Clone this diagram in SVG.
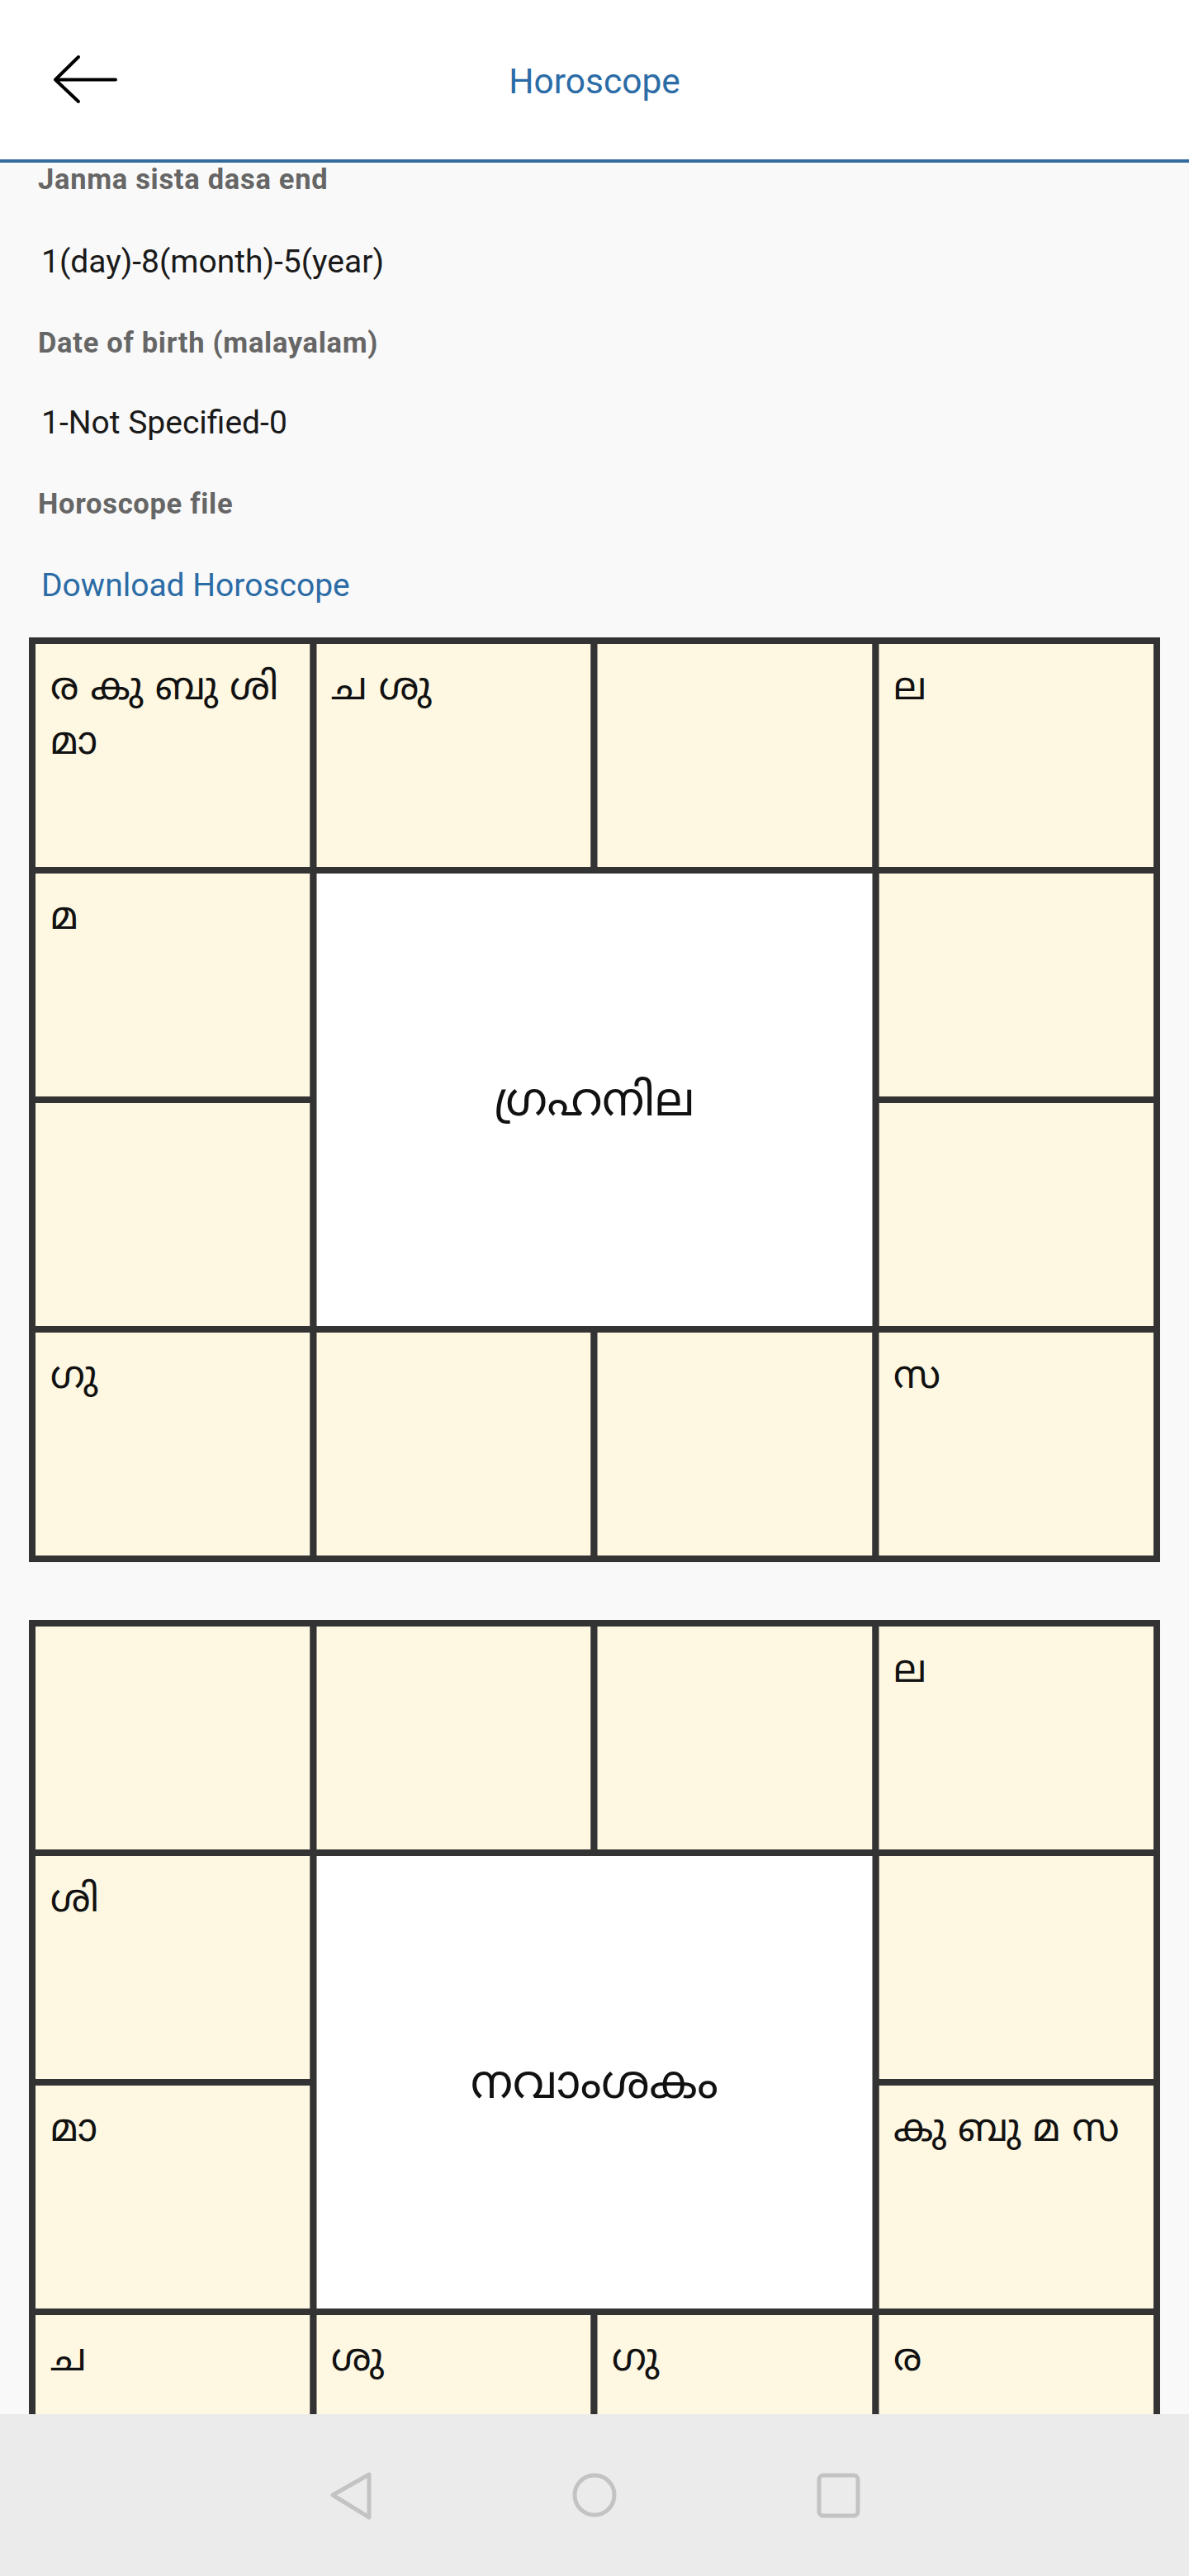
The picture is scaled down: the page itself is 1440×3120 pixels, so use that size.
<svg xmlns="http://www.w3.org/2000/svg" width="1440" height="3120" viewBox="0 0 1440 3120">
<style>
.bg{fill:#F9F9F9}
.cell{fill:#FEF8E2;stroke:#333333;stroke-width:8}
.mid{fill:#FFFFFF;stroke:#333333;stroke-width:8}
.lbl{font-family:Roboto,"Liberation Sans",sans-serif;font-weight:700;font-size:34.5px;letter-spacing:0.7px;fill:#666666}
.val{font-family:Roboto,"Liberation Sans",sans-serif;font-size:39px;fill:#1A1A1A}
.link{font-family:Roboto,"Liberation Sans",sans-serif;font-size:39px;fill:#2C6CA6}
.title{font-family:Roboto,"Liberation Sans",sans-serif;font-size:42.5px;fill:#2C6CA6}
.ml{font-family:"Noto Sans Malayalam","Noto Sans",sans-serif;font-size:46.5px;fill:#111111}
.mlc{font-family:"Noto Sans Malayalam","Noto Sans",sans-serif;font-size:56px;fill:#111111;text-anchor:middle}
.nav{fill:none;stroke:#C3C3C3;stroke-width:5;stroke-linejoin:round}
</style>
<rect class="bg" x="0" y="0" width="1440" height="3120"/>
<g id="header">
<rect x="0" y="0" width="1440" height="193" fill="#FFFFFF"/>
<rect x="0" y="193" width="1440" height="4" fill="#336B9E"/>
<path d="M67 96.5 H140 M95 69 L67 96.5 L95 123" fill="none" stroke="#000000" stroke-width="4" stroke-linecap="round" stroke-linejoin="round"/>
<text class="title" x="720" y="112.5" text-anchor="middle">Horoscope</text>
</g>
<g id="details">
<text class="lbl" x="46" y="229">Janma sista dasa end</text>
<text class="val" x="50" y="330">1(day)-8(month)-5(year)</text>
<text class="lbl" x="46" y="427">Date of birth (malayalam)</text>
<text class="val" x="50" y="525">1-Not Specified-0</text>
<text class="lbl" x="46" y="622">Horoscope file</text>
<text class="link" x="50" y="722">Download Horoscope</text>
</g>
<g id="rasi-chart">
<g id="r-c1"><rect class="cell" x="39" y="776" width="340.5" height="278"/><text class="ml" x="61" y="847">ര കു ബു ശി</text><text class="ml" x="61" y="913">മാ</text></g>
<g id="r-c2"><rect class="cell" x="379.5" y="776" width="340" height="278"/><text class="ml" x="401" y="847">ച ശു</text></g>
<g id="r-c3"><rect class="cell" x="719.5" y="776" width="341" height="278"/></g>
<g id="r-c4"><rect class="cell" x="1060.5" y="776" width="340.5" height="278"/><text class="ml" x="1082" y="847">ല</text></g>
<g id="r-c5"><rect class="cell" x="39" y="1054" width="340.5" height="278"/><text class="ml" x="61" y="1125">മ</text></g>
<g id="r-c6"><rect class="cell" x="1060.5" y="1054" width="340.5" height="278"/></g>
<g id="r-c7"><rect class="cell" x="39" y="1332" width="340.5" height="278"/></g>
<g id="r-c8"><rect class="cell" x="1060.5" y="1332" width="340.5" height="278"/></g>
<g id="r-c9"><rect class="cell" x="39" y="1610" width="340.5" height="278"/><text class="ml" x="61" y="1681">ഗു</text></g>
<g id="r-c10"><rect class="cell" x="379.5" y="1610" width="340" height="278"/></g>
<g id="r-c11"><rect class="cell" x="719.5" y="1610" width="341" height="278"/></g>
<g id="r-c12"><rect class="cell" x="1060.5" y="1610" width="340.5" height="278"/><text class="ml" x="1082" y="1681">സ</text></g>
<g id="r-center"><rect class="mid" x="379.5" y="1054" width="681" height="556"/><text class="mlc" x="720" y="1351">ഗ്രഹനില</text></g>
</g>
<g id="navamsa-chart">
<g id="n-c1"><rect class="cell" x="39" y="1966" width="340.5" height="278"/></g>
<g id="n-c2"><rect class="cell" x="379.5" y="1966" width="340" height="278"/></g>
<g id="n-c3"><rect class="cell" x="719.5" y="1966" width="341" height="278"/></g>
<g id="n-c4"><rect class="cell" x="1060.5" y="1966" width="340.5" height="278"/><text class="ml" x="1082" y="2037">ല</text></g>
<g id="n-c5"><rect class="cell" x="39" y="2244" width="340.5" height="278"/><text class="ml" x="61" y="2315">ശി</text></g>
<g id="n-c6"><rect class="cell" x="1060.5" y="2244" width="340.5" height="278"/></g>
<g id="n-c7"><rect class="cell" x="39" y="2522" width="340.5" height="278"/><text class="ml" x="61" y="2593">മാ</text></g>
<g id="n-c8"><rect class="cell" x="1060.5" y="2522" width="340.5" height="278"/><text class="ml" x="1082" y="2593">കു ബു മ സ</text></g>
<g id="n-c9"><rect class="cell" x="39" y="2800" width="340.5" height="278"/><text class="ml" x="61" y="2871">ച</text></g>
<g id="n-c10"><rect class="cell" x="379.5" y="2800" width="340" height="278"/><text class="ml" x="401" y="2871">ശു</text></g>
<g id="n-c11"><rect class="cell" x="719.5" y="2800" width="341" height="278"/><text class="ml" x="741" y="2871">ഗു</text></g>
<g id="n-c12"><rect class="cell" x="1060.5" y="2800" width="340.5" height="278"/><text class="ml" x="1082" y="2871">ര</text></g>
<g id="n-center"><rect class="mid" x="379.5" y="2244" width="681" height="556"/><text class="mlc" x="720" y="2541">നവാംശകം</text></g>
</g>
<g id="navbar">
<rect x="0" y="2924" width="1440" height="196" fill="#EBEBEB"/>
<path class="nav" d="M447 2997 L403 3022 L447 3049 Z"/>
<circle class="nav" cx="720" cy="3022" r="24"/>
<rect class="nav" x="992" y="2998" width="47" height="49" rx="5"/>
</g>
<g id="connectors"/>
</svg>
